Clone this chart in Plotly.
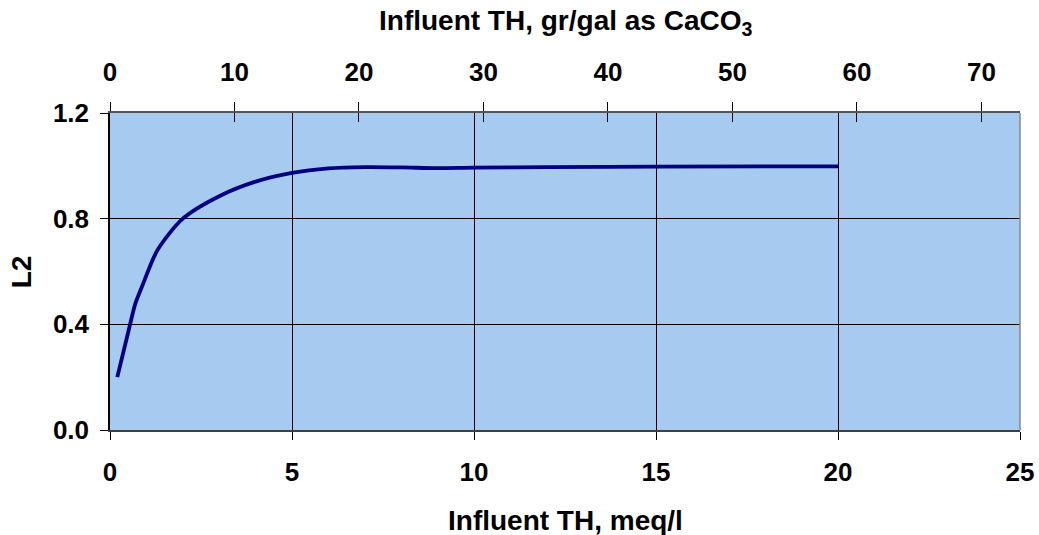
import plotly.graph_objects as go

# Data
th_meq = [0.2, 0.5, 0.7, 0.9, 1.3, 2.0, 3.0, 4.0, 5.0, 6.0, 7.0, 8.0, 9.0, 10.0, 12.0, 15.0, 20.0]
l2 = [0.20, 0.37, 0.48, 0.55, 0.68, 0.80, 0.885, 0.94, 0.973, 0.99, 0.995, 0.994, 0.991, 0.993, 0.995, 0.997, 0.998]

bottom_ticks = [0, 5, 10, 15, 20, 25]
top_ticks = [0, 10, 20, 30, 40, 50, 60, 70]
y_ticks = [0.0, 0.4, 0.8, 1.2]
meq_to_grgal = 2.924

FONT = "Liberation Sans, Arial, sans-serif"
FS = 26
TFS = 28

fig = go.Figure()
fig.add_trace(go.Scatter(x=th_meq, y=l2, mode="lines",
                         line=dict(color="#000080", width=3.8, shape="spline", smoothing=0.8),
                         showlegend=False, hoverinfo="skip"))
# invisible traces to activate the top axes
fig.add_trace(go.Scatter(x=[0], y=[0], xaxis="x2", mode="lines",
                         line=dict(width=0), showlegend=False, hoverinfo="skip"))
fig.add_trace(go.Scatter(x=[0], y=[0], xaxis="x3", mode="lines",
                         line=dict(width=0), showlegend=False, hoverinfo="skip"))

top_range = [0, 25 * meq_to_grgal]
tickfont = dict(family=FONT, size=FS, color="black", weight="bold")

fig.update_layout(
    template="none",
    width=1039, height=535,
    margin=dict(l=110, r=19, t=113, b=105, autoexpand=False),
    paper_bgcolor="white",
    plot_bgcolor="#A6CAF0",
    font=dict(family=FONT, size=FS, color="black"),
    xaxis=dict(range=[0, 25], tickvals=bottom_ticks, ticktext=[str(v) for v in bottom_ticks],
               showgrid=True, gridcolor="black", gridwidth=1, automargin=False,
               ticks="outside", ticklen=8, tickcolor="black", tickwidth=1,
               showline=True, linecolor="#404040", linewidth=2,
               tickfont=tickfont, ticklabelstandoff=10, zeroline=False),
    xaxis2=dict(range=top_range, overlaying="x", side="top", anchor="y", automargin=False,
                tickvals=top_ticks, ticktext=[str(v) for v in top_ticks],
                showgrid=False, ticks="outside", ticklen=9, tickcolor="black", tickwidth=1,
                showline=True, linecolor="#555555", linewidth=2,
                tickfont=tickfont, ticklabelstandoff=11, zeroline=False),
    xaxis3=dict(range=top_range, overlaying="x", side="top", anchor="y", automargin=False,
                tickvals=top_ticks, showticklabels=False,
                showgrid=False, ticks="inside", ticklen=9, tickcolor="black", tickwidth=1,
                showline=False, zeroline=False),
    yaxis=dict(range=[0, 1.2], tickvals=y_ticks, tickformat=".1f", automargin=False,
               showgrid=True, gridcolor="black", gridwidth=1,
               ticks="outside", ticklen=8, tickcolor="black", tickwidth=1,
               showline=True, linecolor="black", linewidth=1.5, mirror=False,
               tickfont=tickfont, ticklabelstandoff=6, zeroline=False),
    shapes=[dict(type="line", xref="paper", yref="paper", x0=1, x1=1, y0=0, y1=1,
                 line=dict(color="#888888", width=1.5))],
    annotations=[
        dict(text="<b>Influent TH, meq/l</b>", xref="paper", yref="paper", x=0.5, y=-0.284,
             xanchor="center", yanchor="middle", showarrow=False,
             font=dict(family=FONT, size=TFS, color="black")),
        dict(text="<b>Influent TH, gr/gal as CaCO<sub>3</sub></b>", xref="paper", yref="paper",
             x=0.5, y=1.285, xanchor="center", yanchor="middle", showarrow=False,
             font=dict(family=FONT, size=TFS, color="black")),
        dict(text="<b>L2</b>", xref="paper", yref="paper", x=-0.097, y=0.5, textangle=-90,
             xanchor="center", yanchor="middle", showarrow=False,
             font=dict(family=FONT, size=TFS, color="black")),
    ],
)

fig.write_html("out.html", config={"displayModeBar": False},
               post_script="document.body.style.margin='0';document.body.style.overflow='hidden';")
